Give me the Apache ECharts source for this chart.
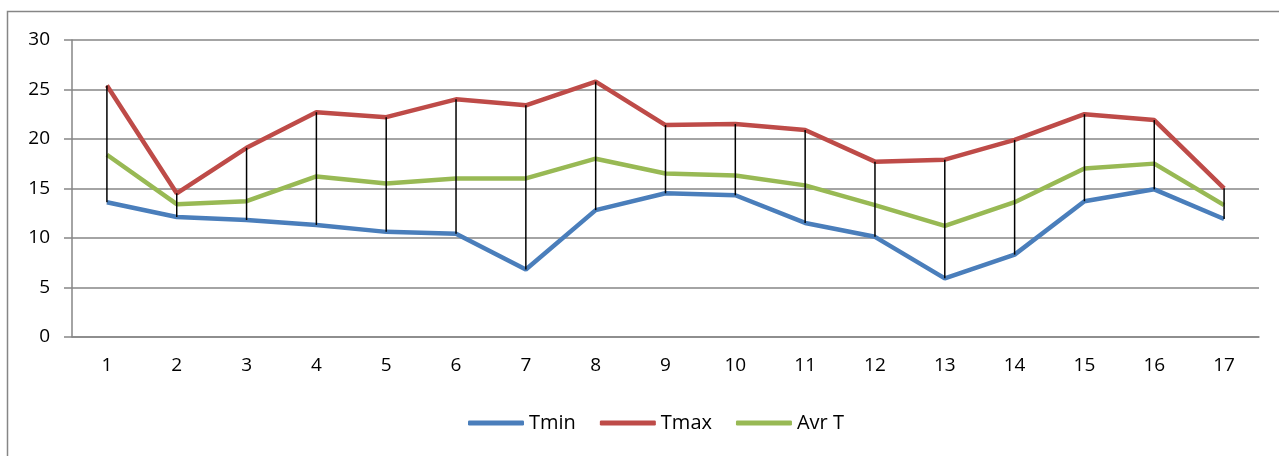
<!DOCTYPE html>
<html>
<head>
<meta charset="utf-8">
<script src="https://cdn.jsdelivr.net/npm/echarts@6/dist/echarts.min.js"></script>
<style>
html,body{margin:0;padding:0;background:#fff;}
#chart{width:1279px;height:456px;}
</style>
</head>
<body>
<div id="chart"></div>
<script>
const categories = ['1','2','3','4','5','6','7','8','9','10','11','12','13','14','15','16','17'];
const tmin = [13.6, 12.1, 11.8, 11.3, 10.6, 10.4, 6.8, 12.8, 14.5, 14.3, 11.5, 10.1, 5.9, 8.3, 13.7, 14.9, 11.9];
const tmax = [25.4, 14.5, 19.1, 22.7, 22.2, 24.0, 23.4, 25.8, 21.4, 21.5, 20.9, 17.7, 17.9, 19.9, 22.5, 21.9, 15.0];
const avrT = [18.4, 13.4, 13.7, 16.2, 15.5, 16.0, 16.0, 18.0, 16.5, 16.3, 15.3, 13.3, 11.2, 13.6, 17.0, 17.5, 13.3];
const yTicks = {min: 0, max: 30, interval: 5};

const font = '"Open Sans", Lato, sans-serif';
const chart = echarts.init(document.getElementById('chart'));
const hl = categories.map((c, i) => [i, tmin[i], tmax[i]]);

chart.setOption({
  animation: false,
  textStyle: {fontFamily: font},
  graphic: [{
    type: 'rect',
    shape: {x: 7.5, y: 11.5, width: 1300, height: 500},
    style: {fill: 'none', stroke: '#868686', lineWidth: 1.5},
    silent: true
  }],
  grid: {left: 72, right: 20, top: 40, bottom: 119.3},
  legend: {
    data: ['Tmin', 'Tmax', 'Avr T'],
    top: 408,
    left: 463,
    icon: 'roundRect',
    itemWidth: 56,
    itemHeight: 5,
    itemGap: 24,
    itemTextGap: 4,
    textStyle: {fontSize: 20, color: '#000', fontFamily: font}
  },
  xAxis: {
    type: 'category',
    data: categories,
    boundaryGap: true,
    axisLine: {show: true, lineStyle: {color: '#868686', width: 1.5}},
    axisTick: {show: false},
    axisLabel: {fontSize: 19, color: '#000', margin: 19, fontFamily: font},
    splitLine: {show: false}
  },
  yAxis: {
    type: 'value',
    min: yTicks.min, max: yTicks.max, interval: yTicks.interval,
    axisLine: {show: true, lineStyle: {color: '#868686', width: 1.5}},
    axisTick: {show: true, length: 8, lineStyle: {color: '#868686', width: 1.5}},
    axisLabel: {fontSize: 19, color: '#000', margin: 22, fontFamily: font},
    splitLine: {show: true, lineStyle: {color: '#868686', width: 1.5}}
  },
  series: [
    {name: 'Tmin', type: 'line', data: tmin, symbol: 'none', z: 3,
     lineStyle: {color: '#4A7EBB', width: 4.5}, itemStyle: {color: '#4A7EBB'}},
    {name: 'Tmax', type: 'line', data: tmax, symbol: 'none', z: 3,
     lineStyle: {color: '#BE4B48', width: 4.5}, itemStyle: {color: '#BE4B48'}},
    {name: 'Avr T', type: 'line', data: avrT, symbol: 'none', z: 3,
     lineStyle: {color: '#98B954', width: 4.5}, itemStyle: {color: '#98B954'}},
    {name: 'HighLow', type: 'custom', z: 5, data: hl,
     renderItem: function (params, api) {
       const p1 = api.coord([api.value(0), api.value(1)]);
       const p2 = api.coord([api.value(0), api.value(2)]);
       return {type: 'line', shape: {x1: p1[0], y1: p1[1], x2: p2[0], y2: p2[1]},
               style: {stroke: '#000', lineWidth: 1.5}};
     }}
  ]
});
</script>
</body>
</html>
